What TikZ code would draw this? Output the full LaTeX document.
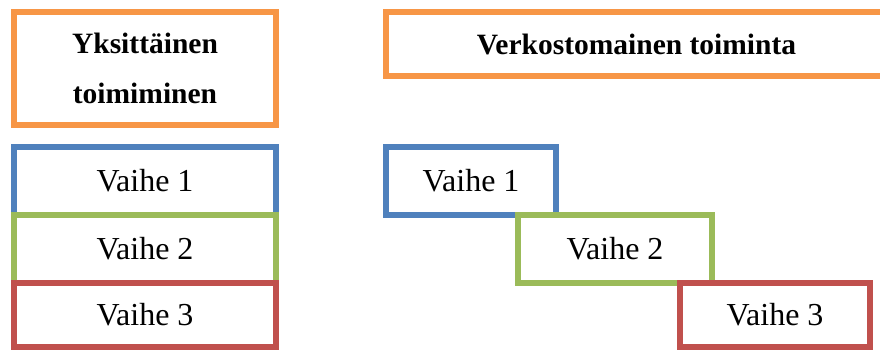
\documentclass[tikz,border=0pt]{standalone}
\usepackage{fontspec}
\setmainfont{Liberation Serif}
\usepackage{tikz}
\usepackage{xcolor}
\definecolor{boxorange}{HTML}{F79646}
\definecolor{boxblue}{HTML}{4F81BD}
\definecolor{boxgreen}{HTML}{9BBB59}
\definecolor{boxred}{HTML}{C0504D}
\tikzset{
    title-box/.style = {draw=boxorange, fill=white, line width=6pt, rectangle, inner sep=0pt, align=center, font=\fontsize{29.5}{50}\selectfont\bfseries},
    phase-box/.style = {draw=#1, fill=white, line width=6pt, rectangle, inner sep=0pt, minimum height=68pt, font=\fontsize{32}{38}\selectfont},
}

\begin{document}
\begin{tikzpicture}[x=1pt, y=-1pt]
\useasboundingbox (0,0) rectangle (880,350);
% otsikot
\node [title-box, minimum width=262pt, minimum height=113pt] (single) at (145,68.5) {Yksittäinen\\toimiminen};
\node [title-box, minimum width=501pt, minimum height=64pt] (network) at (636.5,44) {Verkostomainen toiminta};
% vaiheet peräkkäin
\node [phase-box=boxblue, minimum width=262pt] (s1) at (145,181) {Vaihe 1};
\node [phase-box=boxgreen, minimum width=262pt] (s2) at (145,249) {Vaihe 2};
\node [phase-box=boxred, minimum width=262pt, minimum height=64pt] (s3) at (145,315) {Vaihe 3};
% vaiheet limittäin
\node [phase-box=boxblue, minimum width=170pt] (n1) at (471,181) {Vaihe 1};
\node [phase-box=boxgreen, minimum width=194pt] (n2) at (615,249) {Vaihe 2};
\node [phase-box=boxred, minimum width=190pt, minimum height=64pt] (n3) at (775,315) {Vaihe 3};
\end{tikzpicture}
\end{document}
